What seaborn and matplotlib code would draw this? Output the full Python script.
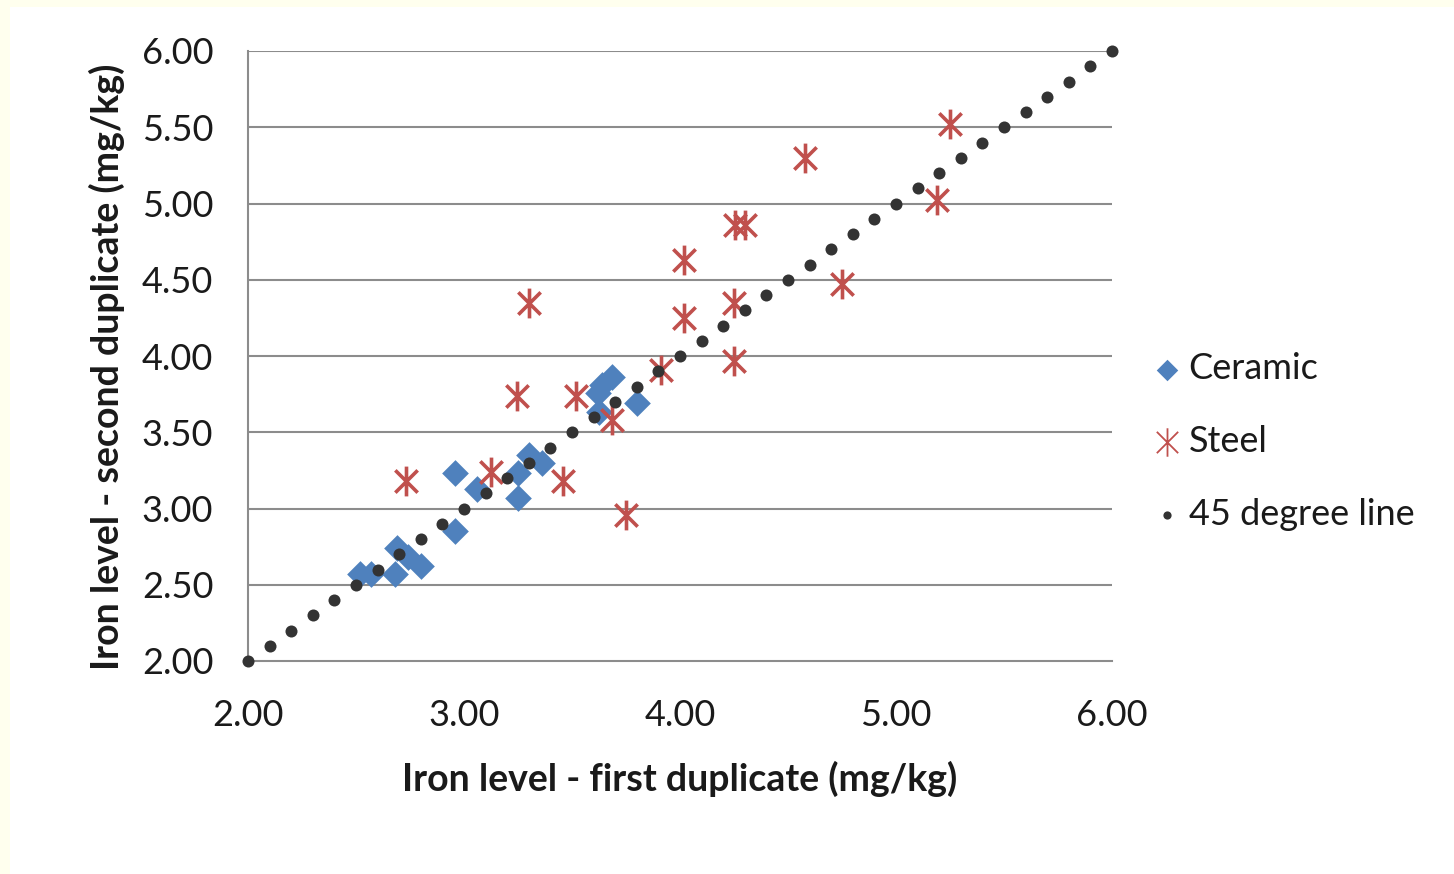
import numpy as np
import pandas as pd
import matplotlib
matplotlib.use("Agg")
import matplotlib.pyplot as plt
from matplotlib.path import Path
from matplotlib.patches import Rectangle
import seaborn as sns

# ---- data ----
ceramic_x = [2.52, 2.57, 2.68, 2.69, 2.74, 2.80, 2.96, 2.96, 3.06, 3.25, 3.25,
             3.30, 3.36, 3.685, 3.64, 3.62, 3.625, 3.80]
ceramic_y = [2.57, 2.57, 2.57, 2.74, 2.68, 2.62, 3.23, 2.85, 3.13, 3.23, 3.07,
             3.35, 3.30, 3.86, 3.81, 3.76, 3.63, 3.69]

steel_x = [2.73, 3.125, 3.245, 3.30, 3.46, 3.52, 3.685, 3.75, 3.91, 4.02, 4.02,
           4.25, 4.25, 4.255, 4.30, 4.58, 4.75, 5.19, 5.25]
steel_y = [3.18, 3.24, 3.74, 4.35, 3.18, 3.74, 3.58, 2.96, 3.91, 4.25, 4.63,
           3.97, 4.35, 4.86, 4.86, 5.30, 4.47, 5.02, 5.52]

line_x = [2.0, 2.1, 2.2, 2.3, 2.4, 2.5, 2.6, 2.7, 2.8, 2.9, 3.0, 3.1, 3.2, 3.3,
          3.4, 3.5, 3.6, 3.7, 3.8, 3.9, 4.0, 4.1, 4.2, 4.3, 4.4, 4.5, 4.6, 4.7,
          4.8, 4.9, 5.0, 5.1, 5.2, 5.3, 5.4, 5.5, 5.6, 5.7, 5.8, 5.9, 6.0]
line_y = [2.0, 2.1, 2.2, 2.3, 2.4, 2.5, 2.6, 2.7, 2.8, 2.9, 3.0, 3.1, 3.2, 3.3,
          3.4, 3.5, 3.6, 3.7, 3.8, 3.9, 4.0, 4.1, 4.2, 4.3, 4.4, 4.5, 4.6, 4.7,
          4.8, 4.9, 5.0, 5.1, 5.2, 5.3, 5.4, 5.5, 5.6, 5.7, 5.8, 5.9, 6.0]

x_ticks = [2.0, 3.0, 4.0, 5.0, 6.0]
y_ticks = [2.0, 2.5, 3.0, 3.5, 4.0, 4.5, 5.0, 5.5, 6.0]

series_labels = ["Ceramic", "Steel", "45 degree line"]
x_label = "Iron level - first duplicate (mg/kg)"
y_label = "Iron level - second duplicate (mg/kg)"

# ---- style ----
sns.set_theme(style="white")
plt.rcParams["font.family"] = ["Lato", "DejaVu Sans"]

BLUE = "#4F81BD"
RED = "#C0504D"
DOT = "#333333"
GRID = "#8C8C8C"
TXT = "#1a1a1a"

fig = plt.figure(figsize=(14.54, 8.74), dpi=100)
fig.patch.set_facecolor("#FFFFEE")
bg = Rectangle((10 / 1454, 0), 1.0, 1 - 7 / 874, transform=fig.transFigure,
               facecolor="white", edgecolor="none", zorder=-5)
fig.add_artist(bg)
ax = fig.add_axes([248 / 1454, 1 - 661 / 874, (1112 - 248) / 1454, (661 - 51) / 874])
ax.set_zorder(1)
ax.set_facecolor("white")

asterisk = Path(
    [(0, -1), (0, 1), (-0.75, -0.75), (0.75, 0.75), (-0.75, 0.75), (0.75, -0.75)],
    [Path.MOVETO, Path.LINETO, Path.MOVETO, Path.LINETO, Path.MOVETO, Path.LINETO],
)

df_c = pd.DataFrame({"x": ceramic_x, "y": ceramic_y})
df_s = pd.DataFrame({"x": steel_x, "y": steel_y})
df_l = pd.DataFrame({"x": line_x, "y": line_y})

sns.scatterplot(data=df_c, x="x", y="y", ax=ax, marker="D", s=185, color=BLUE,
                edgecolor=BLUE, linewidth=0, label=series_labels[0], zorder=3,
                clip_on=False)
sns.scatterplot(data=df_s, x="x", y="y", ax=ax, marker=asterisk, s=460,
                color=RED, edgecolor=RED, linewidth=2.6, label=series_labels[1],
                zorder=4, clip_on=False)
sns.scatterplot(data=df_l, x="x", y="y", ax=ax, marker="o", s=75, color=DOT,
                edgecolor=DOT, linewidth=0, label=series_labels[2], zorder=5,
                clip_on=False)

ax.set_xlim(2.0, 6.0)
ax.set_ylim(2.0, 6.0)
ax.set_xticks(x_ticks)
ax.set_yticks(y_ticks)
ax.set_xticklabels([f"{v:.2f}" for v in x_ticks])
ax.set_yticklabels([f"{v:.2f}" for v in y_ticks])

for yv in y_ticks[1:]:
    ax.axhline(yv, color=GRID, linewidth=1.5, zorder=1)

for side in ["top", "right"]:
    ax.spines[side].set_visible(False)
for side in ["left", "bottom"]:
    ax.spines[side].set_color(GRID)
    ax.spines[side].set_linewidth(1.5)

ax.tick_params(axis="both", which="major", direction="out", length=10,
               width=1.5, color=GRID, labelsize=26, labelcolor=TXT)
ax.tick_params(axis="x", pad=17)
ax.tick_params(axis="y", pad=15)

ax.set_xlabel(x_label, fontsize=27, fontweight="bold", color=TXT, labelpad=21)
ax.set_ylabel(y_label, fontsize=27, fontweight="bold", color=TXT)
ax.yaxis.set_label_coords(-0.142, 0.482)

leg = ax.legend(loc="center left", bbox_to_anchor=(1.026, 0.36), frameon=False,
                fontsize=26, labelspacing=1.1, handletextpad=0.1,
                handlelength=1.0, borderaxespad=0)
for t in leg.get_texts():
    t.set_color(TXT)
hs = leg.legend_handles
hs[0].set_sizes([120])
hs[1].set_sizes([420])
hs[1].set_linewidths([1.3])
hs[1].set_edgecolor(RED)
hs[2].set_sizes([35])

fig.savefig("out.png", dpi=100, facecolor=fig.get_facecolor())
